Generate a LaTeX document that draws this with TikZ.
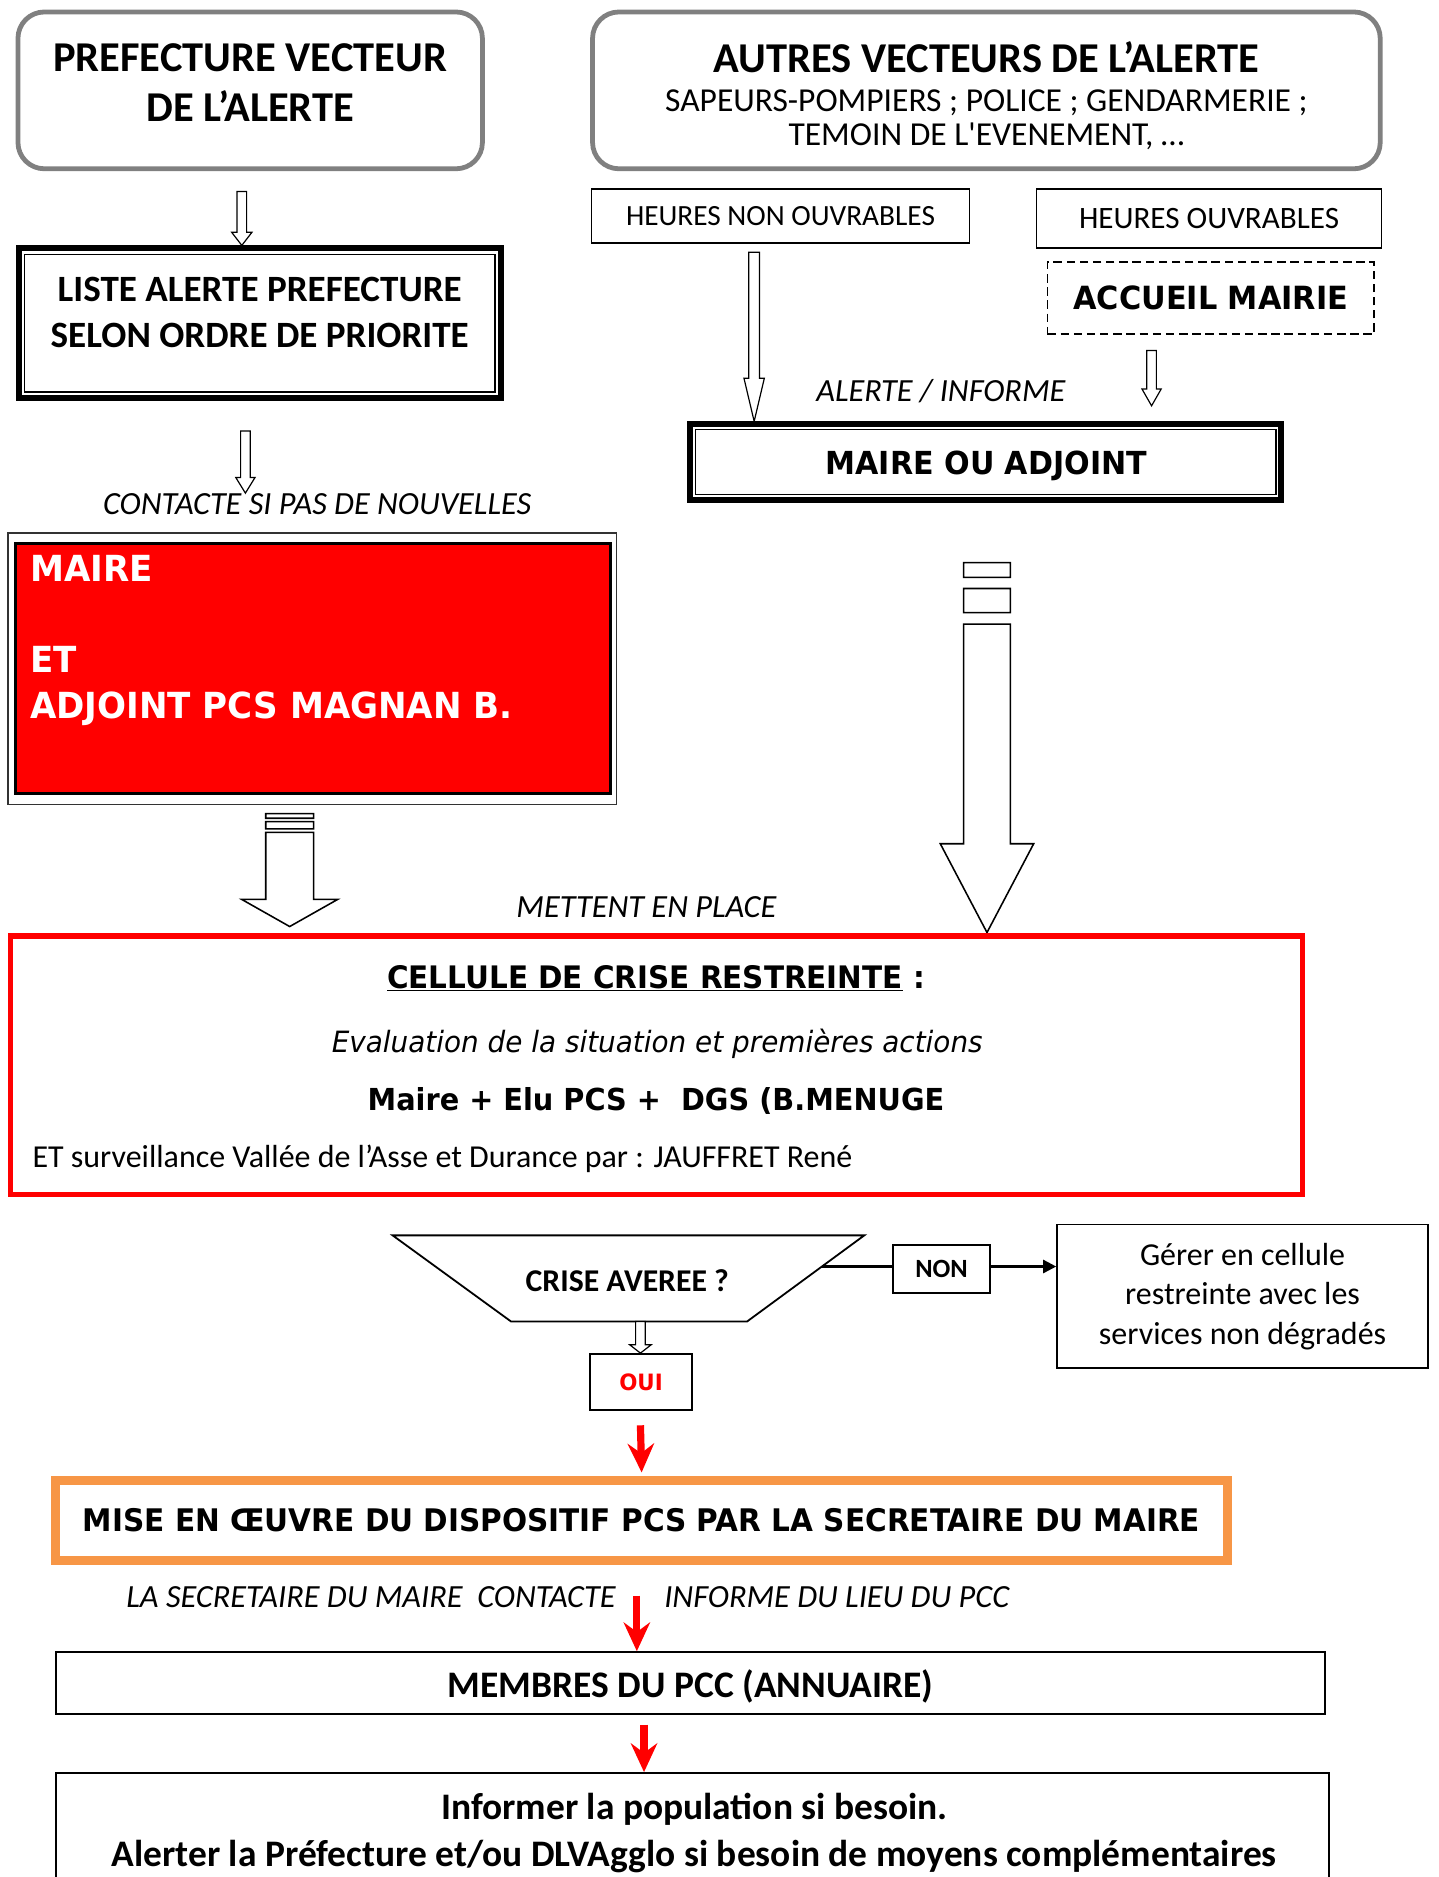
\documentclass[tikz,border=0pt]{standalone}
\usepackage{fontspec}
\setmainfont{Carlito}
\newfontfamily\tahoma[FakeStretch=0.95]{DejaVu Sans}
\usetikzlibrary{arrows.meta,calc}
\definecolor{gris}{RGB}{128,128,128}
\definecolor{orangepcs}{RGB}{247,150,70}
\newcommand{\taille}[2]{\fontsize{#1}{#2}\selectfont}
% fleche creuse : depart, arrivee, demi-tige, demi-tete, longueur de tete
\newcommand{\fleche}[5]{\draw[fill=white, line width=1pt] let \p1=(#1), \p2=(#2) in
  (\x1-#3pt,\y1) -- (\x1-#3pt,\y2+#5pt) -- (\x1-#4pt,\y2+#5pt) -- (\x1,\y2)
  -- (\x1+#4pt,\y2+#5pt) -- (\x1+#3pt,\y2+#5pt) -- (\x1+#3pt,\y1) -- cycle;}
% grosse fleche creuse avec deux barrettes
\newcommand{\grossefleche}[4]{\draw[fill=white, line width=1.3pt] let \p1=(#1), \p2=(#2), \n1={\y1-\y2} in
  (\x1-#3pt,\y1) rectangle (\x1+#3pt,\y1-0.04*\n1)
  (\x1-#3pt,\y1-0.07*\n1) rectangle (\x1+#3pt,\y1-0.135*\n1)
  (\x1-#3pt,\y1-0.166*\n1) -- (\x1-#3pt,\y1-0.76*\n1) -- (\x1-#4pt,\y1-0.76*\n1) -- (\x1,\y2)
  -- (\x1+#4pt,\y1-0.76*\n1) -- (\x1+#3pt,\y1-0.76*\n1) -- (\x1+#3pt,\y1-0.166*\n1) -- cycle;}
% filet interieur d'un cadre
\newcommand{\filet}[3]{\draw[#3] ([shift={(#2pt,-#2pt)}]#1.north west) rectangle ([shift={(-#2pt,#2pt)}]#1.south east);}

\begin{document}
\begin{tikzpicture}[x=1pt, y=-1pt, every node/.style={inner sep=0pt},
  boite/.style={draw, line width=1.3pt, align=center},
  arrondi/.style={draw=gris, line width=4pt, rounded corners=22pt},
  cadre/.style={draw, line width=5pt, align=center},
  rouge/.style={red, line width=6pt, -{Stealth[length=24pt, width=22pt, inset=8pt]}},
  titre/.style={font=\bfseries\taille{35.5}{42}, align=center},
  note/.style={font=\itshape\taille{27}{30}}]
\useasboundingbox (0,0) rectangle (1202,1568);
\clip (0,0) rectangle (1202,1568);

% vecteurs de l'alerte
\node[arrondi, minimum width=388, minimum height=131] (pref) at (209,75.5) {};
\node[titre] (preftxt) at (209,69) {PREFECTURE VECTEUR\\DE L’ALERTE};
\node[arrondi, minimum width=658, minimum height=131] (autres) at (824,75.5) {};
\node[titre] (autrestxt) at (824,48) {AUTRES VECTEURS DE L’ALERTE};
\node[font=\taille{28}{29}, align=center] (liste2) at (824,100) {SAPEURS-POMPIERS ; POLICE ; GENDARMERIE ;\\TEMOIN DE L\textquotesingle EVENEMENT, \dots};

\node[boite, minimum width=316, minimum height=45, font=\taille{24.5}{28}] (hno) at (652,180.5) {HEURES NON OUVRABLES};
\node[boite, minimum width=288, minimum height=49, font=\taille{26}{30}] (ho) at (1010,182.5) {HEURES OUVRABLES};
\node[draw, line width=1.5pt, dash pattern=on 7pt off 4pt, minimum width=273, minimum height=60,
  font=\tahoma\bfseries\taille{26.7}{30}] (accueil) at (1011.5,249) {ACCUEIL MAIRIE};

% liste prefecture
\node[cadre, minimum width=403, minimum height=125] (liste) at (217,270) {};
\filet{liste}{7.5}{line width=1.2pt}
\node[font=\bfseries\taille{31}{38}, align=center] (listetxt) at (217,261) {LISTE ALERTE PREFECTURE\\SELON ORDRE DE PRIORITE};
\node[note] (contacte) at (265,421) {CONTACTE SI PAS DE NOUVELLES};

% maire ou adjoint
\node[cadre, minimum width=494, minimum height=63] (maireadj) at (823.5,386) {};
\filet{maireadj}{7}{line width=1.2pt}
\node[font=\tahoma\bfseries\taille{26.5}{30}] (maireadjtxt) at (824,389) {MAIRE OU ADJOINT};
\node[note] (alerte) at (786,327) {ALERTE / INFORME};

\fleche{[xshift=-7pt,yshift=-17pt]pref.south}{liste.north}{4}{8.5}{11}
\fleche{[xshift=-12pt,yshift=-25pt]liste.south}{contacte.north}{4}{8}{13}
\fleche{[xshift=-22pt,yshift=-7pt]hno.south}{maireadj.north}{4.5}{8.5}{36}
\fleche{[xshift=-49.5pt,yshift=-13pt]accueil.south}{[yshift=13pt]maireadj.north}{4}{8}{14}

% maire et adjoint PCS
\node[draw=black!80, line width=1.5pt, minimum width=508, minimum height=227] (cadrerouge) at (261,558.5) {};
\node[draw, fill=red, line width=2pt, minimum width=497, minimum height=209] (maire) at (261.5,558.5) {};
\node[anchor=west, align=left, text=white, font=\tahoma\bfseries\taille{30}{38}] (mairetxt) at (25,535)
  {MAIRE\\\mbox{}\\ET\\ADJOINT PCS MAGNAN B.};

\coordinate (g1) at ([xshift=-19pt,yshift=-7pt]cadrerouge.south);
\coordinate (g2) at (242,774);
\grossefleche{g1}{g2}{20}{40}
\coordinate (d1) at ([xshift=1pt,yshift=-50pt]maireadj.south);
\coordinate (d2) at (824.5,779);
\grossefleche{d1}{d2}{19.5}{39}
\node[note] (mettent) at (540,758) {METTENT EN PLACE};

% cellule de crise
\node[draw=red, line width=4.5pt, minimum width=1079, minimum height=216] (cellule) at (548.5,890) {};
\node[font=\tahoma\bfseries\taille{25.9}{30}] (celtitre) at (548,817) {\underline{CELLULE DE CRISE RESTREINTE} :};
\node[font=\tahoma\itshape\taille{24.5}{30}] (eval) at (549,872) {Evaluation de la situation et premières actions};
\node[font=\tahoma\bfseries\taille{25.3}{30}] (elus) at (548,920) {Maire + Elu PCS +\ \ DGS (B.MENUGE};
\node[anchor=west, font=\taille{26.7}{30}] (surv) at (27,968) {ET surveillance Vallée de l’Asse et Durance par : JAUFFRET René};

% crise averee ?
\draw[line width=1.5pt] (328,1032) -- (722,1032) -- (624,1104) -- (427,1104) -- cycle;
\node[font=\bfseries\taille{26.5}{30}] (crise) at (524,1070) {CRISE AVEREE ?};
\coordinate (tr) at (687,1058);
\coordinate (tb) at (535,1104);
\node[boite, minimum width=81, minimum height=40, font=\bfseries\taille{22}{26}] (non) at (786.5,1060) {NON};
\node[boite, minimum width=310, minimum height=120, font=\taille{26.7}{33}] (gerer) at (1038,1083)
  {Gérer en cellule\\restreinte avec les\\services non dégradés};
\draw[line width=2pt] (tr) -- (tr -| non.west);
\draw[line width=2pt, -{Triangle[length=11pt, width=11pt]}] (tr -| non.east) -- (tr -| gerer.west);
\node[boite, minimum width=85, minimum height=47, text=red, font=\tahoma\bfseries\taille{18.8}{22}] (oui) at (535.5,1154.5) {OUI};
\fleche{tb}{oui.north}{4}{9}{7}

% mise en oeuvre
\node[draw=orangepcs, line width=7pt, minimum width=979, minimum height=67,
  font=\tahoma\bfseries\taille{26}{30}] (mise) at (536,1270) {MISE EN ŒUVRE DU DISPOSITIF PCS PAR LA SECRETAIRE DU MAIRE};
\filet{mise}{6.5}{draw=orangepcs, line width=1.5pt}
\draw[rouge] ([xshift=-0.5pt,yshift=-12pt]oui.south) -- ([yshift=3pt]mise.north);

\node[note] (secr) at (310,1334) {LA SECRETAIRE DU MAIRE\ \ CONTACTE};
\node[note] (informe) at (699,1334) {INFORME DU LIEU DU PCC};

% membres du PCC
\node[boite, minimum width=1060, minimum height=52] (membres) at (577,1406) {};
\node[font=\bfseries\taille{31.3}{34}] (membrestxt) at (577,1408.5) {MEMBRES DU PCC (ANNUAIRE)};
\coordinate (r2) at ([xshift=-4pt,yshift=-26pt]mise.south);
\draw[rouge] (r2) -- (r2 |- membres.north);

\node[boite, minimum width=1063, minimum height=119] (info) at (578.5,1540.5) {};
\node[font=\bfseries\taille{31.3}{39}, align=center] (infotxt) at (580,1531)
  {Informer la population si besoin.\\Alerter la Préfecture et/ou DLVAgglo si besoin de moyens complémentaires};
\coordinate (r3) at ([xshift=-39pt,yshift=-8pt]membres.south);
\draw[rouge] (r3) -- (r3 |- info.north);
\end{tikzpicture}
\end{document}
